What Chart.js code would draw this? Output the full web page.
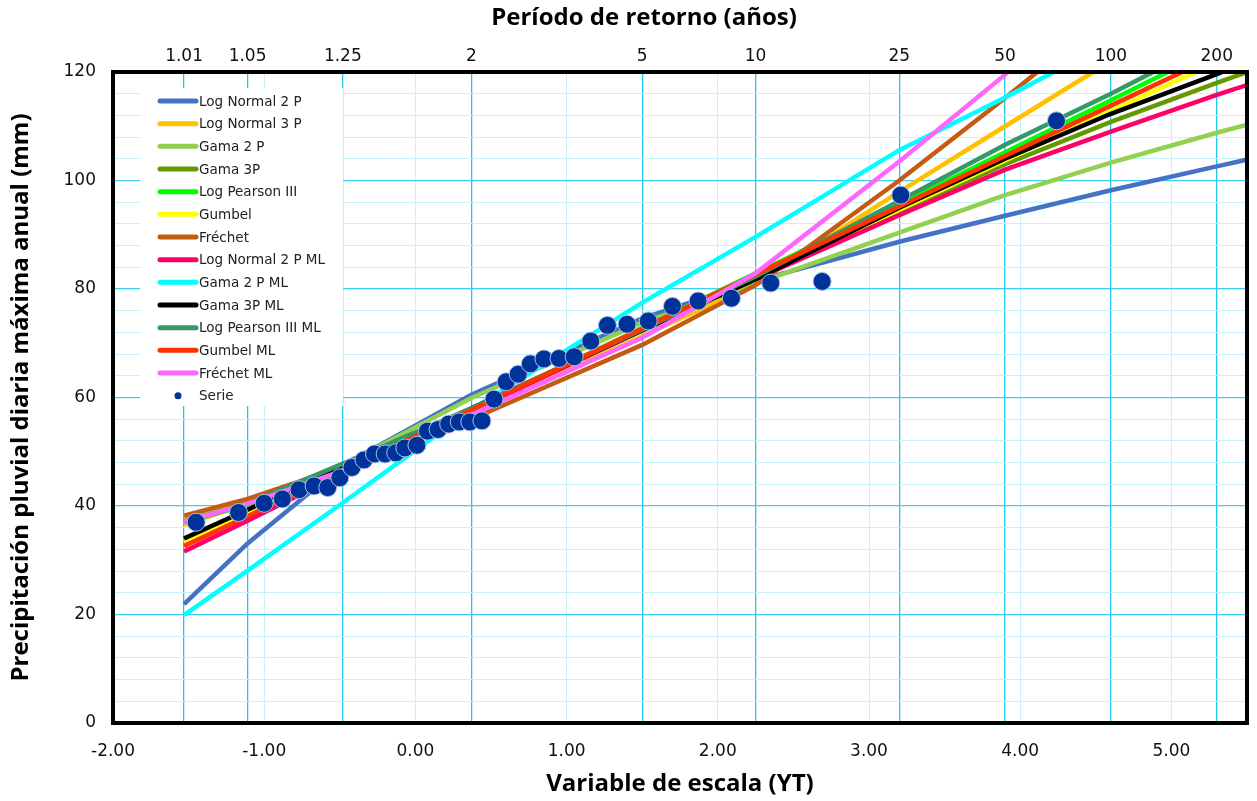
<!DOCTYPE html>
<html>
<head>
<meta charset="utf-8">
<script src="https://cdn.jsdelivr.net/npm/chart.js@4.4.0/dist/chart.umd.min.js"></script>
<style>
  html, body { margin: 0; padding: 0; background: #fff; }
  canvas { display: block; }
</style>
</head>
<body>
<canvas id="chart" width="1257" height="801"></canvas>
<script>
// return periods shown on the top axis and their reduced variate (YT)
const rpLabels = ["1.01", "1.05", "1.25", "2", "5", "10", "25", "50", "100", "200"];
const rpYT = [-1.53, -1.11, -0.48, 0.37, 1.50, 2.25, 3.20, 3.90, 4.60, 5.30];

// nodes used by the fitted curves (same return periods + 500 años)
const curveYT = [-1.53, -1.11, -0.48, 0.37, 1.50, 2.25, 3.20, 3.90, 4.60, 5.30, 6.21];

const logNormal2 = [21.9, 33.1, 47.5, 60.5, 74.6, 81.5, 88.7, 93.5, 98.2, 102.6, 108.3];
const logNormal3 = [36.5, 40.5, 47.0, 57.0, 71.3, 81.0, 97.9, 110.0, 122.0, 134.0, 150.0];
const gama2 = [37.4, 40.6, 47.5, 59.9, 73.8, 81.0, 90.4, 97.3, 103.3, 108.8, 115.5];
const gama3 = [34.0, 39.2, 47.2, 57.8, 72.3, 81.8, 94.2, 103.0, 110.8, 118.0, 127.0];
const logPearson = [37.0, 40.2, 47.3, 57.8, 72.8, 82.9, 95.6, 105.2, 114.8, 124.5, 137.0];
const gumbel = [33.4, 38.8, 47.0, 57.9, 72.6, 82.3, 94.6, 103.7, 112.8, 121.8, 133.7];
const frechet = [38.2, 41.3, 47.2, 56.0, 69.7, 80.7, 100.0, 115.2, 131.0, 150.0, 180.0];
const logNormal2ML = [31.6, 37.3, 46.0, 57.5, 72.4, 81.8, 93.6, 102.0, 109.0, 115.8, 124.0];
const gama2ML = [19.9, 28.1, 40.6, 57.7, 77.5, 89.6, 105.6, 115.3, 125.5, 135.5, 148.0];
const gama3ML = [34.0, 39.3, 47.4, 58.0, 72.4, 81.8, 95.0, 104.0, 112.3, 119.6, 130.0];
const logPearsonML = [37.1, 40.4, 47.8, 58.0, 72.5, 82.3, 96.2, 106.6, 116.0, 126.0, 140.0];
const gumbelML = [32.6, 38.1, 46.6, 57.7, 72.7, 82.7, 95.2, 104.5, 113.8, 123.0, 135.2];
const frechetML = [37.1, 40.4, 46.5, 56.8, 71.0, 82.9, 103.5, 119.5, 141.0, 165.0, 200.0];

// observed series
const serieYT = [-1.45, -1.17, -1.00, -0.88, -0.77, -0.67, -0.58, -0.50, -0.42, -0.34,
  -0.27, -0.20, -0.13, -0.07, 0.01, 0.08, 0.15, 0.22, 0.29, 0.36,
  0.44, 0.52, 0.60, 0.68, 0.76, 0.85, 0.95, 1.05, 1.16, 1.27,
  1.40, 1.54, 1.70, 1.87, 2.09, 2.35, 2.69, 3.21, 4.24];
const serieMm = [37.0, 38.8, 40.5, 41.3, 43.0, 43.7, 43.4, 45.2, 47.1, 48.5,
  49.6, 49.6, 49.8, 50.7, 51.2, 53.8, 54.1, 55.1, 55.5, 55.5,
  55.7, 59.7, 62.9, 64.3, 66.2, 67.1, 67.2, 67.5, 70.4, 73.3,
  73.5, 74.1, 76.8, 77.8, 78.3, 81.1, 81.4, 97.3, 111.0];

const curves = [
  ["Log Normal 2 P", logNormal2, "#4472c4"],
  ["Log Normal 3 P", logNormal3, "#ffc000"],
  ["Gama 2 P", gama2, "#92d050"],
  ["Gama 3P", gama3, "#669900"],
  ["Log Pearson III", logPearson, "#00ff00"],
  ["Gumbel", gumbel, "#ffff00"],
  ["Fréchet", frechet, "#c55a11"],
  ["Log Normal 2 P ML", logNormal2ML, "#ff0066"],
  ["Gama 2 P ML", gama2ML, "#00ffff"],
  ["Gama 3P ML", gama3ML, "#000000"],
  ["Log Pearson III ML", logPearsonML, "#339966"],
  ["Gumbel ML", gumbelML, "#ff3300"],
  ["Fréchet ML", frechetML, "#ff66ff"],
];

const datasets = curves.map(([label, vals, color], i) => ({
  label,
  data: vals.map((v, k) => ({ x: curveYT[k], y: v })),
  showLine: true,
  borderColor: color,
  backgroundColor: color,
  borderWidth: 4.5,
  pointRadius: 0,
  tension: 0,
  order: 20 - i,
}));
datasets.push({
  label: "Serie",
  data: serieMm.map((v, k) => ({ x: serieYT[k], y: v })),
  showLine: false,
  pointRadius: 9,
  pointBackgroundColor: "#003399",
  pointBorderColor: "#a9bde6",
  pointBorderWidth: 1,
  backgroundColor: "#003399",
  order: 0,
});

const tickFont = { family: "'DejaVu Sans', sans-serif", size: 17 };
const titleFont = { family: "'Open Sans', sans-serif", size: 24, weight: "bold" };

// legend in a white box inside the plot, drawn over the grid
const boxLegend = {
  id: "boxLegend",
  beforeDatasetsDraw(chart) {
    const { ctx } = chart;
    ctx.save();
    ctx.fillStyle = "#fff";
    ctx.fillRect(140, 88, 203, 318);
    ctx.font = "13.5px 'DejaVu Sans', sans-serif";
    ctx.textBaseline = "middle";
    chart.data.datasets.forEach((ds, i) => {
      const y = 101 + i * 22.67;
      if (ds.showLine) {
        ctx.strokeStyle = ds.borderColor;
        ctx.lineWidth = 5;
        ctx.lineCap = "round";
        ctx.beginPath();
        ctx.moveTo(160, y);
        ctx.lineTo(196, y);
        ctx.stroke();
      } else {
        ctx.fillStyle = ds.pointBackgroundColor;
        ctx.beginPath();
        ctx.arc(178, y, 3.5, 0, Math.PI * 2);
        ctx.fill();
      }
      ctx.fillStyle = "#222";
      ctx.fillText(ds.label, 199, y + 1);
    });
    ctx.restore();
  },
  afterDraw(chart) {
    const { ctx, chartArea: a } = chart;
    ctx.save();
    ctx.strokeStyle = "#000";
    ctx.lineWidth = 4;
    ctx.strokeRect(a.left, a.top, a.right - a.left, a.bottom - a.top);
    ctx.restore();
  },
};

new Chart(document.getElementById("chart"), {
  type: "scatter",
  data: { datasets },
  plugins: [boxLegend],
  options: {
    responsive: false,
    animation: false,
    layout: { padding: { right: 4 } },
    plugins: { legend: { display: false }, tooltip: { enabled: false } },
    scales: {
      x: {
        type: "linear",
        position: "bottom",
        min: -2,
        max: 5.5,
        afterFit: (s) => { s.height = 78; },
        ticks: {
          stepSize: 1,
          includeBounds: false,
          callback: (v) => v.toFixed(2),
          font: tickFont,
          color: "#111",
          padding: 18,
          maxRotation: 0,
        },
        grid: { color: "#c6f3fb", lineWidth: 1, drawTicks: false },
        border: { display: false },
        title: {
          display: true,
          text: "Variable de escala (YT)",
          font: titleFont,
          color: "#000",
          padding: { top: 0, bottom: 2 },
        },
      },
      x2: {
        type: "linear",
        position: "top",
        min: -2,
        max: 5.5,
        afterFit: (s) => { s.height = 72; },
        afterBuildTicks: (s) => { s.ticks = rpYT.map((v) => ({ value: v })); },
        ticks: {
          autoSkip: false,
          maxRotation: 0,
          callback: (v, i) => rpLabels[i],
          font: tickFont,
          color: "#111",
          padding: 5,
        },
        grid: { color: "#1ec6f0", lineWidth: 1.3, drawTicks: false },
        border: { display: false },
        title: {
          display: true,
          // trailing spaces nudge the centred title a bit to the left, like the original
          text: "Período de retorno (años)\u2003\u2003\u2003",
          font: titleFont,
          color: "#000",
          padding: { top: 4, bottom: 0 },
        },
      },
      y: {
        min: 0,
        max: 120,
        afterFit: (s) => { s.width = 113; },
        ticks: {
          stepSize: 4,
          autoSkip: false,
          callback: (v) => (v % 20 === 0 ? String(v) : ""),
          font: tickFont,
          color: "#111",
          padding: 17,
        },
        grid: {
          color: (c) => (c.tick && c.tick.value % 20 === 0 ? "#3ccdf2" : "#c6f3fb"),
          lineWidth: (c) => (c.tick && c.tick.value % 20 === 0 ? 1.3 : 1),
          drawTicks: false,
        },
        border: { display: false },
        title: {
          display: true,
          text: "Precipitación pluvial diaria máxima anual (mm)",
          font: titleFont,
          color: "#000",
          padding: { top: 7, bottom: 0 },
        },
      },
    },
  },
});
</script>
</body>
</html>
